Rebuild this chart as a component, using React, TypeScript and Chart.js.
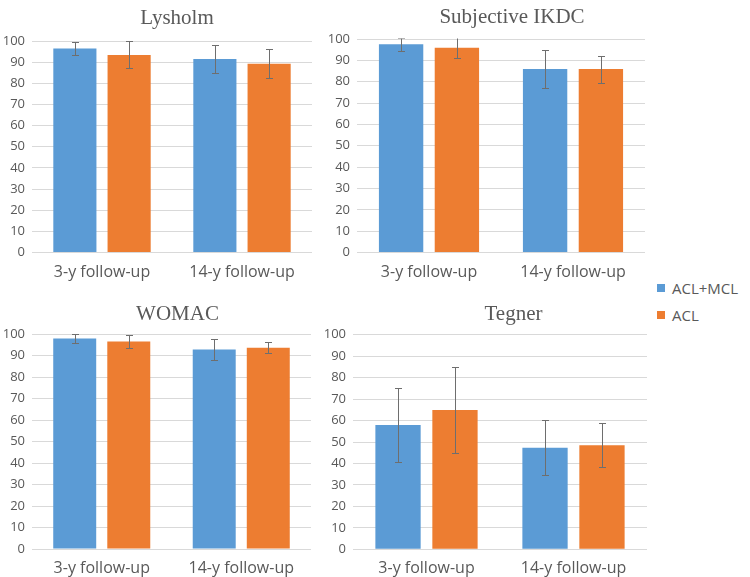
import React, { useEffect, useRef } from "react";
import { Chart, registerables } from "chart.js";

Chart.register(...registerables);

// ---------- data ----------
const categories = ["3-y follow-up", "14-y follow-up"];
const seriesNames = ["ACL+MCL", "ACL"];
const yMin = 0;
const yMax = 100;
const yStep = 10;

const lysholmAclMcl = [96.5, 91.5];
const lysholmAclMclSd = [3.1, 6.4];
const lysholmAcl = [93.4, 89.3];
const lysholmAclSd = [6.4, 6.7];

const ikdcAclMcl = [97.5, 85.9];
const ikdcAclMclSd = [3.0, 8.9];
const ikdcAcl = [95.9, 85.9];
const ikdcAclSd = [4.9, 6.3];

const womacAclMcl = [98.1, 92.9];
const womacAclMclSd = [2.0, 5.0];
const womacAcl = [96.7, 93.7];
const womacAclSd = [3.0, 2.5];

const tegnerAclMcl = [57.9, 47.3];
const tegnerAclMclSd = [17.1, 12.9];
const tegnerAcl = [64.9, 48.5];
const tegnerAclSd = [20.0, 10.3];

// ---------- styles ----------
const BLUE = "#5b9bd5";
const ORANGE = "#ed7d31";
const TEXT = "#595959";
const GRID = "#d9d9d9";
const ERR = "#6e6e6e";
const SANS = "'Open Sans', 'Liberation Sans', sans-serif";
const SERIF = "'Liberation Serif', 'Times New Roman', serif";

type Panel = {
  title: string;
  a: number[];
  aSd: number[];
  b: number[];
  bSd: number[];
  left: number;
  top: number;
  width: number;
  height: number;
  areaTop: number;
  areaBottom: number;
  yAxisWidth: number;
  padRight: number;
  titleX: number;
  titleY: number;
};

const panels: Panel[] = [
  {
    title: "Lysholm",
    a: lysholmAclMcl, aSd: lysholmAclMclSd, b: lysholmAcl, bSd: lysholmAclSd,
    left: 0, top: 0, width: 320, height: 290,
    areaTop: 41, areaBottom: 252.5, yAxisWidth: 32, padRight: 8,
    titleX: 177, titleY: 24,
  },
  {
    title: "Subjective IKDC",
    a: ikdcAclMcl, aSd: ikdcAclMclSd, b: ikdcAcl, bSd: ikdcAclSd,
    left: 320, top: 0, width: 330, height: 290,
    areaTop: 39, areaBottom: 252.5, yAxisWidth: 37, padRight: 5,
    titleX: 192, titleY: 23,
  },
  {
    title: "WOMAC",
    a: womacAclMcl, aSd: womacAclMclSd, b: womacAcl, bSd: womacAclSd,
    left: 0, top: 290, width: 320, height: 287,
    areaTop: 44.3, areaBottom: 259, yAxisWidth: 32, padRight: 9,
    titleX: 177.5, titleY: 29.5,
  },
  {
    title: "Tegner",
    a: tegnerAclMcl, aSd: tegnerAclMclSd, b: tegnerAcl, bSd: tegnerAclSd,
    left: 320, top: 290, width: 330, height: 287,
    areaTop: 44.7, areaBottom: 259.3, yAxisWidth: 33, padRight: 3,
    titleX: 193.5, titleY: 29.5,
  },
];

const errorBarPlugin = {
  id: "errorBars",
  afterDatasetsDraw(chart: any) {
    const ctx = chart.ctx;
    const ys = chart.scales.y;
    const area = chart.chartArea;
    ctx.save();
    ctx.beginPath();
    ctx.rect(area.left, area.top - 0.5, area.right - area.left, area.bottom - area.top + 1);
    ctx.clip();
    ctx.strokeStyle = ERR;
    ctx.lineWidth = 1;
    chart.data.datasets.forEach((ds: any, i: number) => {
      const meta = chart.getDatasetMeta(i);
      meta.data.forEach((bar: any, j: number) => {
        const m = ds.data[j];
        const e = ds.errors[j];
        const x = Math.round(bar.x) + 0.5;
        const yt = Math.round(ys.getPixelForValue(m + e)) + 0.5;
        const yb = Math.round(ys.getPixelForValue(m - e)) + 0.5;
        ctx.beginPath();
        ctx.moveTo(x, yt);
        ctx.lineTo(x, yb);
        ctx.moveTo(x - 3.5, yt);
        ctx.lineTo(x + 3.5, yt);
        ctx.moveTo(x - 3.5, yb);
        ctx.lineTo(x + 3.5, yb);
        ctx.stroke();
      });
    });
    ctx.restore();
  },
};

const panelTitlePlugin = {
  id: "panelTitle",
  afterDraw(chart: any, _args: any, opts: any) {
    const ctx = chart.ctx;
    ctx.save();
    ctx.font = `21px ${SERIF}`;
    ctx.fillStyle = TEXT;
    ctx.textAlign = "center";
    ctx.textBaseline = "alphabetic";
    ctx.fillText(opts.text, opts.x, opts.y);
    ctx.restore();
  },
};

function PanelChart({ p }: { p: Panel }) {
  const ref = useRef<HTMLCanvasElement | null>(null);
  useEffect(() => {
    if (!ref.current) return;
    const chart = new Chart(ref.current, {
      type: "bar",
      data: {
        labels: categories,
        datasets: [
          {
            label: seriesNames[0],
            data: p.a,
            errors: p.aSd,
            backgroundColor: BLUE,
            categoryPercentage: 0.775,
            barPercentage: 0.795,
          } as any,
          {
            label: seriesNames[1],
            data: p.b,
            errors: p.bSd,
            backgroundColor: ORANGE,
            categoryPercentage: 0.775,
            barPercentage: 0.795,
          } as any,
        ],
      },
      options: {
        responsive: false,
        animation: false,
        devicePixelRatio: 1,
        layout: {
          padding: { left: 0, right: p.padRight, top: p.areaTop, bottom: 0 },
        },
        plugins: {
          legend: { display: false },
          tooltip: { enabled: false },
          title: { display: false },
          panelTitle: { text: p.title, x: p.titleX, y: p.titleY },
        } as any,
        scales: {
          x: {
            grid: { display: false },
            border: { display: false },
            ticks: {
              color: TEXT,
              font: { family: SANS, size: 16 },
              padding: 2,
              maxRotation: 0,
              autoSkip: false,
            },
            afterFit: (s: any) => {
              s.height = p.height - p.areaBottom;
            },
          },
          y: {
            min: yMin,
            max: yMax,
            ticks: {
              stepSize: yStep,
              color: TEXT,
              font: { family: SANS, size: 13 },
              padding: 7,
            },
            grid: { color: GRID, lineWidth: 1, drawTicks: false },
            border: { display: false },
            afterFit: (s: any) => {
              s.width = p.yAxisWidth;
            },
          },
        },
      },
      plugins: [errorBarPlugin, panelTitlePlugin],
    } as any);
    return () => chart.destroy();
  }, [p]);
  return (
    <canvas
      ref={ref}
      width={p.width}
      height={p.height}
      style={{
        position: "absolute",
        left: p.left,
        top: p.top,
        width: p.width,
        height: p.height,
        display: "block",
      }}
    />
  );
}

const legendColors = [BLUE, ORANGE];

export default function App() {
  return (
    <div
      style={{
        position: "absolute",
        left: 0,
        top: 0,
        width: 750,
        height: 577,
        background: "#ffffff",
        overflow: "hidden",
      }}
    >
      {panels.map((p) => (
        <PanelChart key={p.title} p={p} />
      ))}
      {seriesNames.map((name, i) => (
        <div
          key={name}
          style={{
            position: "absolute",
            left: 657,
            top: 277 + i * 27,
            height: 22,
            display: "flex",
            alignItems: "center",
            fontFamily: SANS,
            fontSize: 15,
            color: TEXT,
            whiteSpace: "nowrap",
          }}
        >
          <span
            style={{
              display: "inline-block",
              width: 8,
              height: 8,
              background: legendColors[i],
              marginRight: 7,
            }}
          />
          {name}
        </div>
      ))}
    </div>
  );
}
